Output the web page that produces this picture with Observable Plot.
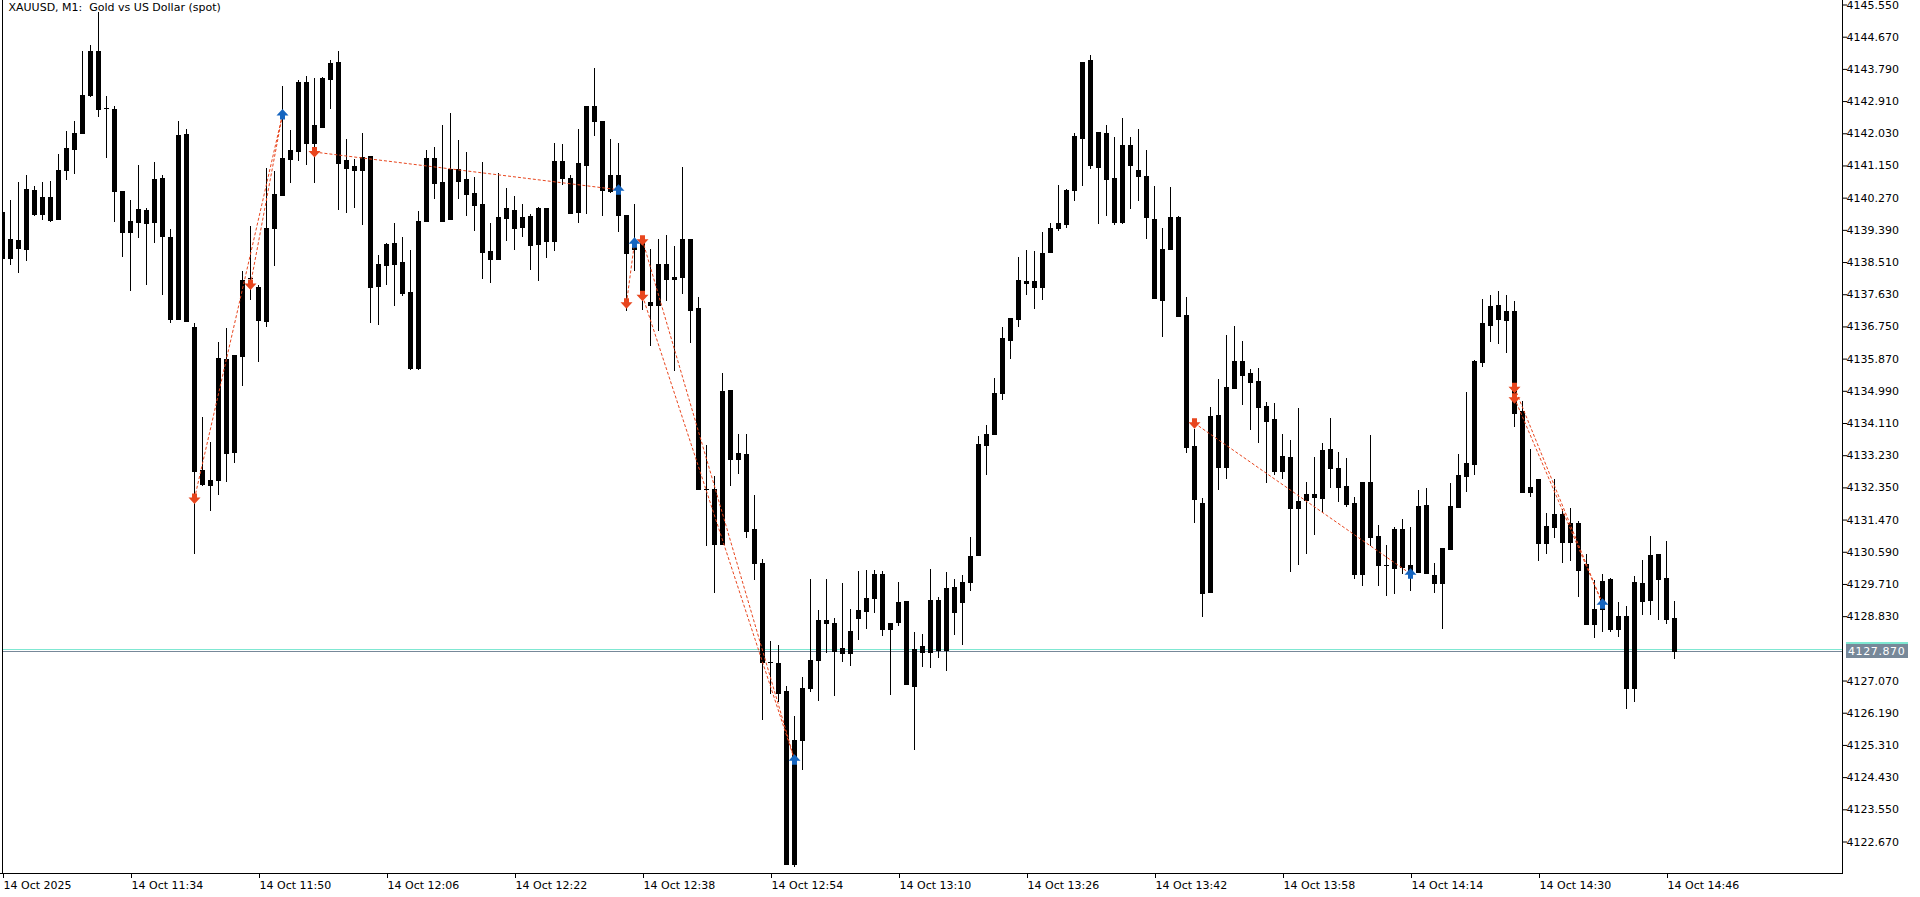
<!DOCTYPE html>
<html><head><meta charset="utf-8">
<script src="https://cdn.jsdelivr.net/npm/d3@7"></script>
<script src="https://cdn.jsdelivr.net/npm/@observablehq/plot@0.6"></script>
<style>
html,body{margin:0;padding:0;background:#fff;overflow:hidden}
#chart svg{display:block}
</style>
</head><body><div id="chart"></div>
<script>
const title = "XAUUSD, M1:\u00A0 Gold vs US Dollar (spot)";
const opens = [4139.88,4138.63,4139.11,4138.86,4140.48,4139.82,4140.29,4139.69,4141.03,4141.61,4142.04,4143.07,4144.28,4142.71,4142.68,4140.45,4139.34,4139.61,4139.93,4139.61,4140.81,4139.20,4136.94,4142.01,4136.73,4132.83,4132.42,4132.56,4135.86,4133.33,4135.95,4138.07,4137.84,4136.91,4139.44,4140.35,4141.33,4141.55,4143.43,4141.77,4142.21,4143.52,4143.98,4141.30,4141.03,4141.03,4141.41,4137.86,4138.44,4139.03,4138.51,4137.69,4135.60,4139.63,4141.35,4140.70,4139.69,4141.05,4140.78,4140.40,4140.10,4138.81,4138.60,4139.72,4139.93,4139.48,4139.77,4139.01,4139.99,4139.09,4141.27,4140.82,4139.89,4141.17,4142.77,4142.36,4140.46,4140.89,4139.80,4138.86,4139.09,4137.42,4137.33,4138.47,4138.04,4138.10,4139.15,4137.25,4132.30,4132.30,4130.80,4135.01,4133.13,4133.26,4131.21,4130.28,4127.57,4127.55,4126.78,4122.06,4125.44,4126.87,4127.62,4128.73,4128.64,4127.82,4127.82,4128.78,4128.98,4129.32,4129.98,4128.48,4128.67,4129.24,4126.92,4127.86,4127.86,4129.28,4127.91,4129.62,4129.23,4129.77,4130.49,4133.50,4133.81,4134.93,4136.39,4136.96,4138.00,4137.98,4137.83,4138.79,4139.45,4139.55,4140.47,4141.91,4144.04,4141.11,4142.04,4140.81,4139.61,4141.71,4141.02,4140.86,4139.68,4137.48,4138.88,4139.75,4137.06,4133.48,4131.92,4129.50,4134.33,4132.92,4135.08,4135.81,4135.48,4135.25,4134.57,4134.22,4132.81,4133.18,4131.79,4132.01,4132.17,4132.07,4133.40,4132.88,4132.39,4131.92,4129.99,4132.50,4131.02,4130.23,4130.15,4131.21,4130.23,4130.05,4131.87,4129.95,4129.74,4130.67,4131.82,4132.67,4133.00,4135.79,4136.80,4137.34,4136.93,4137.17,4134.43,4132.23,4132.58,4130.82,4131.28,4131.62,4130.87,4131.39,4130.25,4128.62,4129.02,4129.84,4128.49,4128.83,4126.87,4129.74,4129.28,4130.53,4129.87,4128.78];
const highs = [4139.90,4140.21,4140.70,4140.89,4140.60,4140.70,4140.72,4141.46,4142.10,4142.36,4144.28,4144.43,4145.35,4143.04,4142.78,4140.45,4140.21,4141.16,4140.00,4141.24,4140.89,4139.40,4142.36,4142.14,4136.84,4134.27,4133.58,4136.32,4136.71,4135.97,4138.27,4139.50,4137.88,4141.08,4141.00,4143.32,4142.12,4143.49,4143.60,4143.54,4143.57,4144.03,4144.28,4141.87,4141.33,4142.04,4141.41,4138.70,4139.03,4139.59,4139.19,4138.84,4139.90,4141.57,4141.65,4142.25,4142.58,4141.85,4141.52,4140.83,4141.24,4139.58,4140.94,4140.53,4140.31,4140.10,4139.82,4140.01,4139.99,4141.76,4141.74,4140.89,4142.14,4142.77,4143.81,4142.36,4141.87,4141.76,4139.80,4140.10,4139.12,4138.87,4139.13,4139.25,4138.94,4141.10,4139.15,4137.55,4133.51,4132.66,4135.48,4135.01,4133.80,4133.80,4132.14,4130.40,4128.14,4128.03,4126.93,4126.10,4127.16,4129.84,4129.00,4129.84,4128.78,4129.74,4129.03,4130.06,4130.10,4130.10,4130.06,4128.64,4129.76,4129.24,4128.40,4128.35,4130.13,4129.35,4130.03,4129.84,4129.96,4130.99,4133.76,4134.06,4135.33,4136.74,4136.99,4138.65,4138.84,4138.81,4139.34,4139.58,4140.61,4140.51,4142.05,4143.97,4144.17,4142.06,4142.25,4141.92,4142.45,4141.93,4142.14,4141.58,4140.59,4139.44,4140.56,4139.77,4137.56,4133.95,4132.07,4134.55,4135.31,4136.52,4136.76,4136.35,4135.58,4135.61,4134.69,4134.66,4133.81,4133.64,4134.52,4132.50,4133.18,4133.55,4134.25,4133.32,4133.15,4132.09,4132.50,4133.78,4131.32,4130.77,4131.27,4131.49,4131.27,4132.28,4132.33,4130.28,4130.69,4132.47,4133.26,4134.96,4135.83,4137.50,4137.61,4137.72,4137.61,4137.45,4134.70,4133.40,4132.58,4131.65,4132.58,4131.76,4131.80,4131.42,4130.52,4129.82,4129.98,4129.86,4129.21,4129.11,4129.93,4130.36,4131.02,4130.53,4130.88,4129.24];
const lows = [4138.60,4138.44,4138.22,4138.55,4139.77,4139.67,4139.61,4139.69,4140.75,4140.92,4142.04,4143.02,4142.47,4141.36,4139.61,4138.66,4137.73,4139.18,4137.87,4139.02,4137.62,4136.83,4136.94,4136.91,4130.53,4132.40,4131.71,4132.15,4132.51,4133.03,4135.13,4137.48,4135.79,4136.74,4138.41,4140.35,4140.68,4141.28,4141.17,4140.68,4142.21,4142.70,4139.92,4139.86,4140.00,4139.53,4136.85,4136.80,4137.89,4137.32,4137.59,4135.55,4135.55,4139.63,4140.24,4139.63,4139.69,4140.24,4139.78,4139.37,4138.05,4137.95,4138.60,4139.09,4138.85,4139.20,4138.30,4138.00,4138.63,4138.82,4140.62,4139.86,4139.59,4139.83,4141.96,4139.78,4140.41,4139.34,4137.18,4138.26,4137.19,4136.22,4136.63,4137.44,4135.54,4137.64,4136.29,4132.29,4130.76,4129.45,4130.80,4132.40,4132.72,4130.97,4129.81,4125.99,4126.70,4126.49,4122.06,4121.96,4124.63,4126.77,4126.52,4127.82,4126.64,4127.58,4127.48,4128.17,4128.48,4128.91,4128.28,4126.68,4128.57,4126.96,4125.16,4127.43,4127.41,4127.69,4127.32,4128.31,4128.05,4129.53,4130.49,4132.70,4133.78,4134.75,4135.87,4136.74,4137.61,4137.23,4137.47,4138.79,4139.37,4139.43,4140.19,4140.60,4141.06,4139.55,4139.76,4139.52,4139.56,4139.97,4140.17,4139.14,4137.53,4136.47,4138.88,4137.04,4133.30,4131.39,4128.82,4129.50,4132.27,4132.58,4135.05,4134.61,4133.92,4133.55,4132.48,4132.70,4132.57,4130.05,4130.24,4130.54,4131.06,4131.66,4132.34,4131.96,4131.82,4129.85,4129.66,4130.76,4129.66,4129.39,4129.44,4129.99,4129.53,4130.05,4130.02,4129.47,4128.49,4130.67,4131.82,4132.23,4132.70,4135.65,4136.33,4136.28,4136.03,4134.01,4132.23,4132.10,4130.35,4130.54,4130.97,4130.29,4130.35,4129.34,4128.62,4128.24,4128.41,4128.41,4128.27,4126.30,4126.49,4128.87,4128.87,4128.73,4128.62,4127.67];
const closes = [4138.63,4139.14,4138.90,4140.50,4139.82,4140.29,4139.66,4141.03,4141.62,4142.04,4143.07,4144.28,4142.70,4142.71,4140.44,4139.34,4139.62,4139.96,4139.58,4140.78,4139.21,4136.94,4141.98,4136.91,4132.81,4132.44,4132.55,4135.89,4133.30,4135.97,4138.02,4138.07,4136.93,4139.44,4140.37,4141.35,4141.57,4143.43,4141.77,4142.26,4143.54,4143.95,4141.23,4141.09,4141.14,4141.38,4137.84,4138.46,4139.00,4138.47,4137.67,4135.60,4139.63,4141.35,4140.68,4139.63,4141.05,4140.73,4140.38,4140.08,4138.79,4138.60,4139.74,4139.99,4139.44,4139.74,4138.98,4139.99,4139.09,4141.27,4140.82,4139.86,4141.22,4142.77,4142.37,4140.49,4140.89,4139.80,4138.77,4139.00,4137.70,4137.34,4138.47,4138.04,4138.10,4139.13,4137.20,4132.30,4132.30,4130.79,4134.98,4133.13,4133.30,4131.17,4130.27,4127.57,4127.57,4126.74,4122.06,4125.44,4126.86,4127.62,4128.73,4128.63,4127.87,4127.95,4128.42,4129.00,4129.33,4129.98,4128.48,4128.64,4129.23,4126.98,4127.94,4128.01,4129.28,4127.91,4129.60,4128.93,4129.76,4130.47,4133.54,4133.81,4134.93,4136.44,4136.99,4138.03,4137.95,4137.84,4138.77,4139.43,4139.58,4140.48,4141.95,4143.97,4141.15,4142.06,4140.77,4139.61,4141.71,4141.15,4140.85,4139.73,4137.53,4138.86,4139.75,4137.04,4133.46,4132.04,4129.45,4134.30,4132.92,4135.10,4135.81,4135.41,4135.22,4134.56,4134.17,4132.81,4133.21,4131.79,4131.99,4132.17,4132.10,4133.37,4132.89,4132.37,4131.90,4129.99,4132.50,4131.00,4130.24,4130.23,4131.21,4130.18,4130.09,4131.84,4130.02,4129.74,4130.69,4131.84,4132.69,4133.02,4135.80,4136.84,4137.31,4136.96,4137.17,4134.37,4132.23,4132.36,4130.82,4131.29,4131.62,4130.87,4131.37,4130.10,4128.62,4129.02,4129.79,4128.49,4128.83,4126.87,4129.76,4129.25,4130.50,4129.85,4128.76,4127.87];

const xTickIndex = [0,16,32,48,64,80,96,112,128,144,160,176,192,208];
const xTickLabels = ["14 Oct 2025","14 Oct 11:34","14 Oct 11:50","14 Oct 12:06","14 Oct 12:22","14 Oct 12:38","14 Oct 12:54","14 Oct 13:10","14 Oct 13:26","14 Oct 13:42","14 Oct 13:58","14 Oct 14:14","14 Oct 14:30","14 Oct 14:46"];
// 4127.950 sits under the current-price tag in the reference, so it is left out
const yTicks = [4145.55,4144.67,4143.79,4142.91,4142.03,4141.15,4140.27,4139.39,4138.51,4137.63,4136.75,4135.87,4134.99,4134.11,4133.23,4132.35,4131.47,4130.59,4129.71,4128.83,4127.07,4126.19,4125.31,4124.43,4123.55,4122.67];

const sellIdx = [24,31,39,78,80,80,149,189,189];
const sellPrice = [4132.06,4137.91,4141.53,4137.40,4139.12,4137.60,4134.12,4135.09,4134.80];
const buyIdx = [35,77,79,99,176,200];
const buyPrice = [4142.56,4140.50,4139.05,4124.92,4130.00,4129.18];
const tradeOpenIdx = [24,31,39,78,80,80,149,189,189];
const tradeOpenPrice = [4132.06,4137.91,4141.53,4137.40,4139.12,4137.60,4134.12,4135.09,4134.80];
const tradeCloseIdx = [35,35,77,79,99,99,176,200,200];
const tradeClosePrice = [4142.56,4142.56,4140.50,4139.05,4124.92,4124.92,4130.00,4129.18,4129.18];

const bidPrice = 4127.87;
const askPrice = 4127.92;

const RED = "#E8461E", BLUE = "#1565C0", ASK = "#7FE8D2", BID = "#778899";

const bars = opens.map((o, i) => ({i, o, h: highs[i], l: lows[i], c: closes[i]}));
const sells = sellIdx.map((i, k) => ({i, p: sellPrice[k]}));
const buys = buyIdx.map((i, k) => ({i, p: buyPrice[k]}));
const trades = tradeOpenIdx.map((i, k) => ({i1: i, p1: tradeOpenPrice[k], i2: tradeCloseIdx[k], p2: tradeClosePrice[k]}));

const arrowDown = {draw(ctx) {
  ctx.moveTo(-2.5, -5); ctx.lineTo(2.5, -5); ctx.lineTo(2.5, -1); ctx.lineTo(6, -1);
  ctx.lineTo(0, 5.5); ctx.lineTo(-6, -1); ctx.lineTo(-2.5, -1); ctx.closePath();
}};
const arrowUp = {draw(ctx) {
  ctx.moveTo(-2.5, 5); ctx.lineTo(2.5, 5); ctx.lineTo(2.5, 1); ctx.lineTo(6, 1);
  ctx.lineTo(0, -5.5); ctx.lineTo(-6, 1); ctx.lineTo(-2.5, 1); ctx.closePath();
}};

const W = 1920, H = 897;
const bw = 0.3125; // half body width in bar units

function borders(index, scales, values, dim) {
  const g = d3.create("svg:g").attr("shape-rendering", "crispEdges").attr("stroke", "#000").attr("fill", "none");
  const xl = dim.marginLeft + 0.5, xr = dim.width - dim.marginRight + 0.5, yb = dim.height - dim.marginBottom + 0.5;
  g.append("line").attr("x1", xl).attr("x2", xl).attr("y1", 0).attr("y2", yb);
  g.append("line").attr("x1", xr).attr("x2", xr).attr("y1", 0).attr("y2", yb);
  g.append("line").attr("x1", 0).attr("x2", xr).attr("y1", yb).attr("y2", yb);
  return g.node();
}

function priceTag(index, scales, values, dim) {
  const g = d3.create("svg:g").attr("shape-rendering", "crispEdges");
  const x0 = dim.width - dim.marginRight + 4;
  const ya = Math.round(scales.y(askPrice)), yb = Math.round(scales.y(bidPrice));
  g.append("rect").attr("x", x0).attr("y", ya - 7).attr("width", 62).attr("height", 14).attr("fill", ASK);
  g.append("rect").attr("x", x0).attr("y", yb - 7).attr("width", 62).attr("height", 14).attr("fill", BID);
  g.append("text").attr("x", x0 + 2).attr("y", yb).attr("dy", "0.36em")
    .attr("text-anchor", "start")
    .attr("fill", "#fff").attr("font-size", 11).attr("letter-spacing", "0.6px")
    .attr("font-family", "DejaVu Sans").text(bidPrice.toFixed(3));
  return g.node();
}

const chart = Plot.plot({
  width: W, height: H,
  marginLeft: 2, marginRight: 78, marginTop: 0, marginBottom: 24,
  style: {background: "#fff", fontFamily: "DejaVu Sans", fontSize: "11px", color: "#000"},
  x: {type: "linear", domain: [0, 209], range: [2, 2 + 8 * 209]},
  y: {type: "linear", domain: [4122.67, 4145.55], range: [841.5, 4.5]},
  marks: [
    Plot.ruleY([askPrice], {y: d => d, stroke: ASK, strokeWidth: 1, shapeRendering: "crispEdges"}),
    Plot.ruleY([bidPrice], {y: d => d, stroke: BID, strokeWidth: 1, shapeRendering: "crispEdges"}),
    Plot.ruleX(bars, {x: "i", y1: "l", y2: "h", stroke: "#000", strokeWidth: 1, shapeRendering: "crispEdges", clip: "frame"}),
    Plot.rect(bars, {x1: d => d.i - bw, x2: d => d.i + bw, y1: d => Math.min(d.o, d.c), y2: d => Math.max(d.o, d.c), fill: "#000", shapeRendering: "crispEdges", clip: "frame", inset: 0}),
    Plot.ruleY(bars, {y: "c", x1: d => d.i - bw, x2: d => d.i + bw, stroke: "#000", shapeRendering: "crispEdges", clip: "frame"}),
    Plot.ruleY(bars, {y: "o", x1: d => d.i - bw, x2: d => d.i + bw, stroke: "#000", shapeRendering: "crispEdges", clip: "frame"}),
    Plot.link(trades, {x1: "i1", y1: "p1", x2: "i2", y2: "p2", stroke: RED, strokeWidth: 1, strokeDasharray: "3,2"}),
    Plot.dot(sells, {x: "i", y: "p", symbol: arrowDown, fill: RED, stroke: null, r: 5}),
    Plot.dot(buys, {x: "i", y: "p", symbol: arrowUp, fill: BLUE, stroke: null, r: 5}),
    Plot.axisY({anchor: "right", ticks: yTicks, tickSize: 4, tickPadding: 0, tickFormat: d => d.toFixed(3), label: null, fontSize: 11, letterSpacing: "0.6px", fill: "#000"}),
    Plot.axisX({anchor: "bottom", ticks: xTickIndex, tickSize: 5, tickPadding: 3, textAnchor: "start", dx: 1, tickFormat: d => xTickLabels[xTickIndex.indexOf(d)], label: null, fontSize: 11, fill: "#000"}),
    borders,
    priceTag,
    Plot.text([title], {frameAnchor: "top-left", text: d => d, dx: 6, dy: 3, fontSize: 11, letterSpacing: "0.2px", fill: "#000", textAnchor: "start"})
  ]
});
document.getElementById("chart").appendChild(chart);
</script>
</body></html>
